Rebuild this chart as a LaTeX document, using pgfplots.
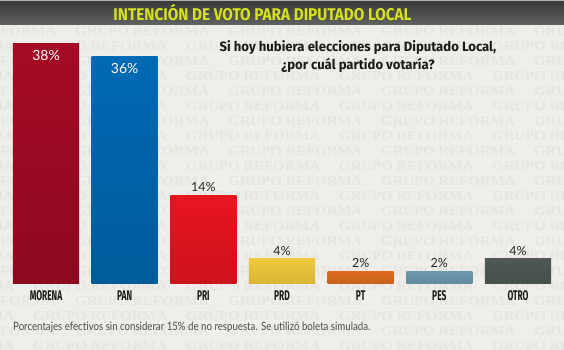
\documentclass[border=0pt]{standalone}
\usepackage{pgfplots}
\pgfplotsset{compat=1.18}
\usepackage{fontspec}
\setmainfont{Lato}
\newfontfamily\titlefont[FakeStretch=0.9]{Fira Sans}
\newfontfamily\qfont[FakeStretch=0.97]{Fira Sans}
\newfontfamily\catfont[FakeStretch=0.6]{Fira Sans}
\newfontfamily\notefont[FakeStretch=0.84]{Lato}
\newfontfamily\wmfont[FakeStretch=1.1]{Liberation Serif}
\definecolor{bg}{HTML}{EFEEEA}
\definecolor{wm}{HTML}{E6E5E1}
\definecolor{titletxt}{HTML}{D6E21C}
\definecolor{morena}{HTML}{A50A24}
\definecolor{pan}{HTML}{006AB5}
\definecolor{pri}{HTML}{E8151F}
\definecolor{prd}{HTML}{F0C93C}
\definecolor{pt}{HTML}{DE6B1E}
\definecolor{pes}{HTML}{6E98AF}
\definecolor{otro}{HTML}{4F5854}
\begin{document}
\begin{tikzpicture}[x=1pt,y=1pt]
\useasboundingbox (0,0) rectangle (564,350);
\fill[bg] (0,0) rectangle (564,350);
% watermark
\begin{scope}
\clip (0,0) rectangle (564,350);
\foreach \r in {0,...,22} {
  \pgfmathsetmacro\yy{334-15*\r}
  \pgfmathsetmacro\xo{mod(\r,2)*42}
  \foreach \c in {-1,...,4} {
    \node[anchor=west, text=wm, font=\wmfont\bfseries\fontsize{13.5}{13.5}\selectfont, inner sep=0] at (\xo-120+153*\c, \yy) {GRUPO REFORMA};
  }
}
\end{scope}
% title bar
\shade[top color=black!78, bottom color=black!62] (0,325.5) rectangle (564,350);
\fill[black!30] (0,349) rectangle (564,350);
\node[font=\titlefont\bfseries\fontsize{17}{17}\selectfont, text=titletxt] at (262.5,337.5) {INTENCIÓN DE VOTO PARA DIPUTADO LOCAL};
% question
\node[font=\qfont\bfseries\fontsize{13.5}{18}\selectfont, align=center, text=black!90] at (358,293) {Si hoy hubiera elecciones para Diputado Local,\\¿por cuál partido votaría?};
% footnote
\node[anchor=west, font=\notefont\fontsize{11.5}{11.5}\selectfont, text=black!70, inner sep=0] at (13,23) {Porcentajes efectivos sin considerar 15\% de no respuesta. Se utilizó boleta simulada.};
\begin{axis}[
  at={(6.7pt,66pt)}, anchor=south west, scale only axis,
  width=550.6pt, height=252.8pt,
  xmin=-0.5, xmax=6.5, ymin=0, ymax=40,
  ybar, bar width=0.84, bar shift=0pt,
  axis line style={draw=none},
  ytick=\empty, xtick={0,...,6},
  xticklabels={MORENA,PAN,PRI,PRD,PT,PES,OTRO},
  major tick length=0pt,
  xticklabel style={font=\catfont\bfseries\fontsize{14}{14}\selectfont, text=black!90, yshift=-3pt},
  clip=false,
  /pgf/number format/assume math mode=true,
  nodes near coords={\pgfmathprintnumber[fixed,precision=0]{\pgfplotspointmeta}\%},
  nodes near coords style={font=\fontsize{12.5}{12.5}\selectfont, text=black!85},
]
\addplot[draw=none, top color=morena, bottom color=morena!85!black, nodes near coords style={anchor=north, text=white, yshift=-3pt, font=\fontsize{14}{14}\selectfont}] coordinates {(0,38)};
\addplot[draw=none, top color=pan, bottom color=pan!85!black, nodes near coords style={anchor=north, text=white, yshift=-3pt, font=\fontsize{14}{14}\selectfont}] coordinates {(1,36)};
\addplot[draw=none, top color=pri, bottom color=pri!88!black] coordinates {(2,14)};
\addplot[draw=none, top color=prd, bottom color=prd!90!black] coordinates {(3,4)};
\addplot[draw=none, top color=pt, bottom color=pt!90!black] coordinates {(4,2)};
\addplot[draw=none, top color=pes, bottom color=pes!90!black] coordinates {(5,2)};
\addplot[draw=none, top color=otro, bottom color=otro!90!black] coordinates {(6,4)};
\end{axis}
\end{tikzpicture}
\end{document}
